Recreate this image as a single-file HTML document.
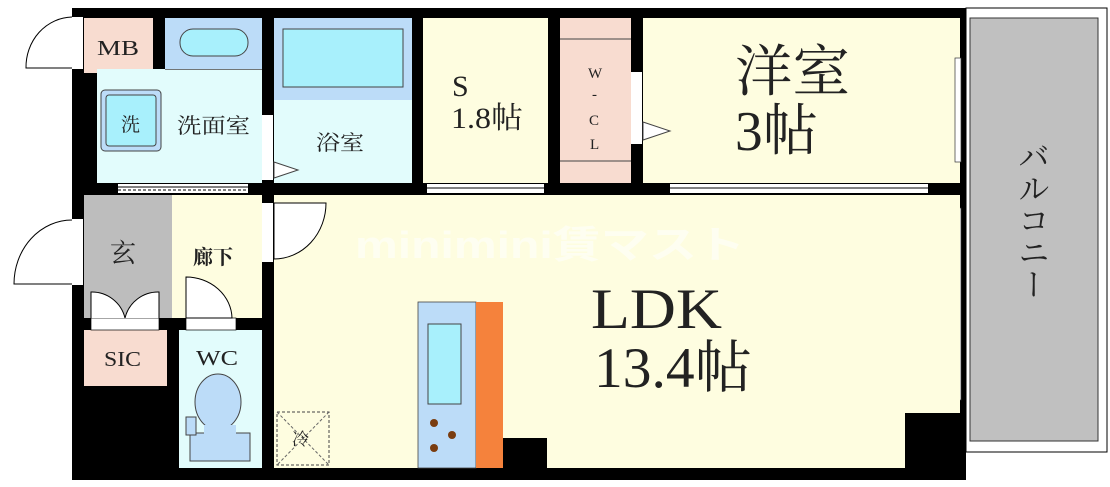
<!DOCTYPE html>
<html><head><meta charset="utf-8"><style>
html,body{margin:0;padding:0;background:#fff;width:1110px;height:487px;overflow:hidden}
text{font-family:"Liberation Serif","Noto Serif CJK SC",serif;fill:#222}
</style></head><body>
<svg width="1110" height="487" viewBox="0 0 1110 487" xmlns="http://www.w3.org/2000/svg">
<rect x="966" y="8" width="141" height="444" fill="#fff" stroke="#000" stroke-width="1"/>
<rect x="970" y="18" width="128" height="423" fill="#c0c0c0" stroke="#333" stroke-width="1"/>
<rect x="72" y="8" width="894" height="472" fill="#000"/>
<rect x="84" y="18" width="69" height="55" fill="#f8dcd0"/>
<rect x="165" y="18" width="97" height="51" fill="#bcdcf8"/>
<rect x="97" y="69" width="165" height="114" fill="#e2fcfc"/>
<rect x="165" y="69" width="97" height="0.8" fill="#555"/>
<rect x="180" y="29" width="68" height="27" rx="13" fill="#a8f0fc" stroke="#444"/>
<rect x="101" y="90" width="60" height="61" rx="4" fill="#bcdcf8" stroke="#444"/>
<rect x="106" y="95" width="50" height="51" rx="3" fill="#a8f0fc" stroke="#444"/>
<rect x="274" y="18" width="138" height="82" fill="#bcdcf8"/>
<rect x="274" y="100" width="138" height="83" fill="#e2fcfc"/>
<rect x="283" y="29" width="120" height="58" fill="#a8f0fc" stroke="#444"/>
<rect x="262" y="115" width="11" height="65" fill="#fff"/>
<polygon points="274,162 298,170 274,178" fill="#fff" stroke="#444"/>
<rect x="423" y="18" width="125" height="165" fill="#fefde0"/>
<rect x="560" y="18" width="71" height="165" fill="#f8dcd0"/>
<line x1="560" y1="39" x2="631" y2="39" stroke="#444"/>
<line x1="560" y1="161" x2="631" y2="161" stroke="#444"/>
<rect x="643" y="18" width="317" height="165" fill="#fefde0"/>
<rect x="631" y="72" width="11" height="72" fill="#fff"/>
<polygon points="643,122 670,131 643,140" fill="#fff" stroke="#444"/>
<rect x="118" y="184" width="130" height="9" fill="#fff"/>
<line x1="118" y1="187" x2="248" y2="187" stroke="#000"/>
<line x1="118" y1="190" x2="248" y2="190" stroke="#000" stroke-dasharray="3,2"/>
<rect x="427" y="184" width="117" height="9" fill="#fff"/>
<line x1="427" y1="188" x2="544" y2="188" stroke="#000"/>
<rect x="670" y="184" width="258" height="9" fill="#fff"/>
<line x1="670" y1="188" x2="928" y2="188" stroke="#000"/>
<rect x="955" y="58" width="6" height="104" fill="#fff" stroke="#333" stroke-width="0.7"/>
<rect x="955" y="208" width="6" height="192" fill="#fff" stroke="#333" stroke-width="0.7"/>
<rect x="84" y="195" width="88" height="123" fill="#bdbdbd"/>
<rect x="172" y="195" width="90" height="123" fill="#fefde0"/>
<rect x="84" y="330" width="83" height="56" fill="#f8dcd0"/>
<rect x="179" y="330" width="83" height="138" fill="#e2fcfc"/>
<rect x="274" y="195" width="686" height="273" fill="#fefde0"/>
<rect x="905" y="413" width="55" height="55" fill="#000"/>
<rect x="503" y="438" width="44" height="30" fill="#000"/>
<rect x="418" y="302" width="58" height="166" fill="#bcdcf8" stroke="#444" stroke-width="0.8"/>
<rect x="476" y="302" width="27" height="166" fill="#f5823c"/>
<rect x="428" y="324" width="33" height="80" fill="#a8f0fc" stroke="#444"/>
<circle cx="434" cy="423" r="4" fill="#7a3d10"/>
<circle cx="452" cy="435" r="4" fill="#7a3d10"/>
<circle cx="434" cy="448" r="4" fill="#7a3d10"/>
<rect x="277" y="412" width="52" height="53" fill="none" stroke="#444" stroke-dasharray="3,2"/>
<line x1="277" y1="412" x2="329" y2="465" stroke="#666" stroke-dasharray="3,2"/>
<line x1="329" y1="412" x2="277" y2="465" stroke="#666" stroke-dasharray="3,2"/>
<rect x="72" y="17" width="11" height="52" fill="#fff"/>
<path d="M72,17 A47,50 0 0,0 26,68 L72,68" fill="#fff" stroke="#000"/>
<rect x="72" y="219" width="11" height="66" fill="#fff"/>
<path d="M72,220 A58,64 0 0,0 14,284 L72,284" fill="#fff" stroke="#000"/>
<rect x="262" y="203" width="11" height="59" fill="#fff"/>
<path d="M274,203 L326,203 A52,56 0 0,1 274,259 Z" fill="#fff" stroke="#000"/>
<rect x="91" y="318" width="68" height="12" fill="#fff" stroke="#000" stroke-width="0.7"/>
<path d="M91,318 L91,292 A34,34 0 0,1 125,318" fill="#fff" stroke="#000"/>
<path d="M159,318 L159,292 A34,34 0 0,0 125,318" fill="#fff" stroke="#000"/>
<rect x="186" y="318" width="50" height="12" fill="#fff" stroke="#000" stroke-width="0.7"/>
<path d="M186,318 L186,277 A46,42 0 0,1 232,318 Z" fill="#fff" stroke="#000"/>
<ellipse cx="218" cy="402" rx="23" ry="28" fill="#bcdcf8" stroke="#444"/>
<rect x="190" y="433" width="60" height="28" fill="#bcdcf8" stroke="#444"/>
<rect x="204" y="425" width="32" height="12" fill="#bcdcf8"/>
<rect x="186" y="417" width="10" height="18" fill="#bcdcf8" stroke="#444"/>
<text x="355" y="258" font-size="38" font-weight="bold" textLength="390" lengthAdjust="spacingAndGlyphs" style="font-family:'Liberation Sans','Noto Sans CJK JP',sans-serif;fill:#fff" opacity="0.55">minimini賃マスト</text>
<text x="97" y="55" font-size="21" textLength="42" lengthAdjust="spacingAndGlyphs">MB</text>
<text x="121" y="131" font-size="19">洗</text>
<text x="177" y="133" font-size="21" textLength="73" lengthAdjust="spacingAndGlyphs">洗面室</text>
<text x="316" y="150" font-size="21" textLength="48" lengthAdjust="spacingAndGlyphs">浴室</text>
<text x="110" y="262" font-size="26">玄</text>
<text x="193" y="264" font-size="20" font-weight="bold">廊下</text>
<text x="104" y="366" font-size="21" textLength="37" lengthAdjust="spacingAndGlyphs">SIC</text>
<text x="196" y="365" font-size="21" textLength="42" lengthAdjust="spacingAndGlyphs">WC</text>
<text x="292" y="445" font-size="17">冷</text>
<text x="452" y="96" font-size="30">S</text>
<text x="451" y="128" font-size="30" textLength="72" lengthAdjust="spacingAndGlyphs">1.8帖</text>
<text x="588" y="78" font-size="15">W</text>
<text x="592" y="99" font-size="15">-</text>
<text x="589" y="125" font-size="15">C</text>
<text x="590" y="149" font-size="15">L</text>
<text x="735" y="91" font-size="56" textLength="115" lengthAdjust="spacingAndGlyphs">洋室</text>
<text x="735" y="150" font-size="56" textLength="83" lengthAdjust="spacingAndGlyphs">3帖</text>
<text x="591" y="328" font-size="57" textLength="131" lengthAdjust="spacingAndGlyphs">LDK</text>
<text x="594" y="387" font-size="57" textLength="158" lengthAdjust="spacingAndGlyphs">13.4帖</text>
<text x="1032" y="140" font-size="32" style="writing-mode:vertical-rl">バルコニー</text>
</svg>
</body></html>
